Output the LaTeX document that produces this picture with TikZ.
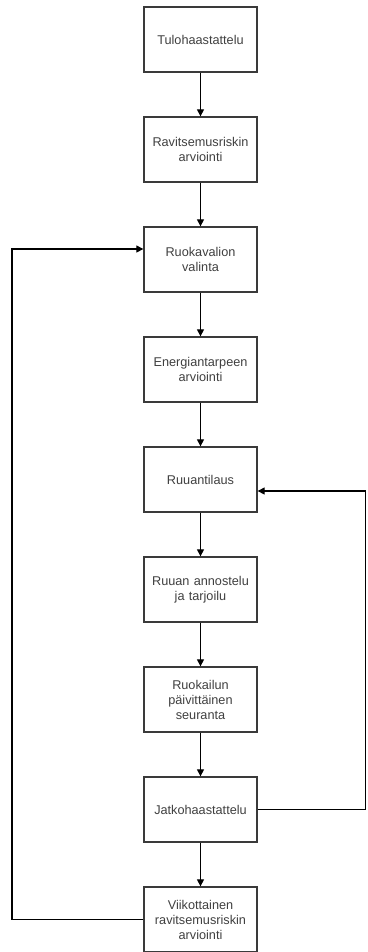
\documentclass[tikz,border=0pt]{standalone}
\usepackage{fontspec}
\setmainfont{Liberation Sans}
\usetikzlibrary{arrows.meta}
\definecolor{boxline}{HTML}{3A3A3A}
\definecolor{txt}{HTML}{404040}
\begin{document}
\begin{tikzpicture}[x=1pt,y=-1pt,
  stepbox/.style={draw=boxline,line width=1.3pt,fill=white,minimum width=113pt,minimum height=65pt,
    text width=110pt,align=center,inner sep=0pt,text=txt,
    font=\fontsize{12.7}{15}\selectfont},
  conn/.style={draw=black,line width=1.1pt,-{Triangle[length=7pt,width=7pt]}},
  plain/.style={draw=black,line width=1.1pt}]
\useasboundingbox (0,0) rectangle (367,952);
\node[stepbox] (n1) at (200.5,39.5) {Tulohaastattelu};
\node[stepbox] (n2) at (200.5,149.5) {Ravitsemusriskin\\arviointi};
\node[stepbox] (n3) at (200.5,259.5) {Ruokavalion\\valinta};
\node[stepbox] (n4) at (200.5,369.5) {Energiantarpeen\\arviointi};
\node[stepbox] (n5) at (200.5,479.5) {Ruuantilaus};
\node[stepbox] (n6) at (200.5,589.5) {Ruuan annostelu\\ja tarjoilu};
\node[stepbox] (n7) at (200.5,699.5) {Ruokailun\\päivittäinen\\seuranta};
\node[stepbox] (n8) at (200.5,809.5) {Jatkohaastattelu};
\node[stepbox] (n9) at (200.5,919.5) {Viikottainen\\ravitsemusriskin\\arviointi};
\draw[conn] (n1) -- (n2);
\draw[conn] (n2) -- (n3);
\draw[conn] (n3) -- (n4);
\draw[conn] (n4) -- (n5);
\draw[conn] (n5) -- (n6);
\draw[conn] (n6) -- (n7);
\draw[conn] (n7) -- (n8);
\draw[conn] (n8) -- (n9);
\coordinate (lb) at (12,919.5);
\coordinate (lt) at (12,249);
\coordinate (rb) at (365.5,809.5);
\coordinate (rt) at (365.5,491);
\draw[conn] (n9.west) -- (lb) -- (lt) -- ([yshift=10.5pt]n3.west);
\draw[conn] (n8.east) -- (rb) -- (rt) -- ([yshift=-11.5pt]n5.east);
\end{tikzpicture}
\end{document}
